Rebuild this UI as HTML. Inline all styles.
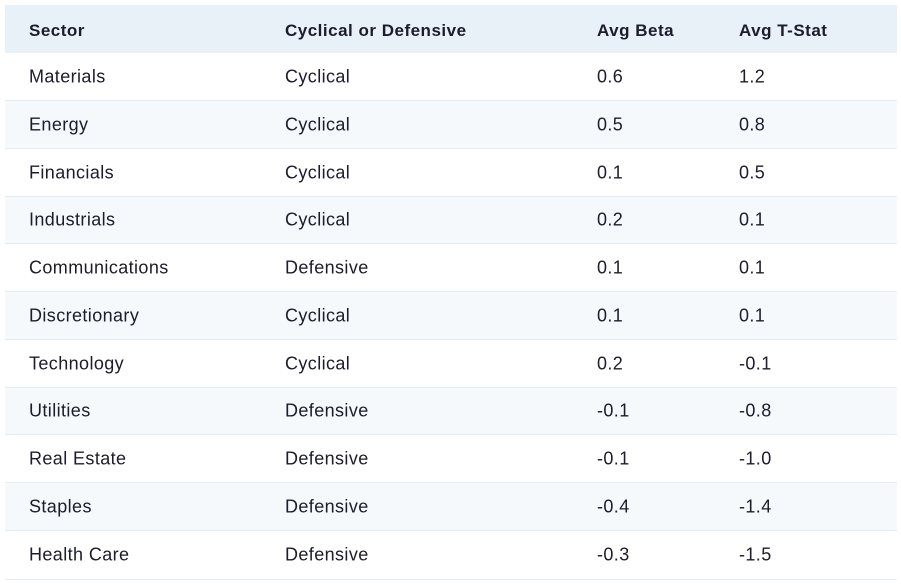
<!DOCTYPE html>
<html><head><style>
body{margin:0;width:901px;height:584px;background:#fff;font-family:"Liberation Sans",Arial,sans-serif;color:#1c1c2b;position:relative;overflow:hidden}
.r{position:absolute;left:5px;width:892px;border-bottom:1px solid #e4ecf4;box-sizing:border-box}
.r span{position:absolute;font-size:18px;top:50%;transform:translateY(-50%);white-space:nowrap;letter-spacing:0.4px}
.h{background:#e8f0f8;border-bottom:none}
.h span{font-weight:bold;font-size:17px;letter-spacing:0.5px;top:calc(50% + 2px)}
.a{background:#f5f9fc}
.c1{left:24px}.c2{left:280px}.c3{left:592px}.c4{left:734px}
</style></head><body>
<div class="r h" style="top:5px;height:48px"><span class="c1">Sector</span><span class="c2">Cyclical or Defensive</span><span class="c3">Avg Beta</span><span class="c4">Avg T-Stat</span></div>
<div class="r" style="top:53px;height:48px"><span class="c1">Materials</span><span class="c2">Cyclical</span><span class="c3">0.6</span><span class="c4">1.2</span></div>
<div class="r a" style="top:101px;height:48px"><span class="c1">Energy</span><span class="c2">Cyclical</span><span class="c3">0.5</span><span class="c4">0.8</span></div>
<div class="r" style="top:149px;height:48px"><span class="c1">Financials</span><span class="c2">Cyclical</span><span class="c3">0.1</span><span class="c4">0.5</span></div>
<div class="r a" style="top:197px;height:47px"><span class="c1">Industrials</span><span class="c2">Cyclical</span><span class="c3">0.2</span><span class="c4">0.1</span></div>
<div class="r" style="top:244px;height:48px"><span class="c1">Communications</span><span class="c2">Defensive</span><span class="c3">0.1</span><span class="c4">0.1</span></div>
<div class="r a" style="top:292px;height:48px"><span class="c1">Discretionary</span><span class="c2">Cyclical</span><span class="c3">0.1</span><span class="c4">0.1</span></div>
<div class="r" style="top:340px;height:48px"><span class="c1">Technology</span><span class="c2">Cyclical</span><span class="c3">0.2</span><span class="c4">-0.1</span></div>
<div class="r a" style="top:388px;height:47px"><span class="c1">Utilities</span><span class="c2">Defensive</span><span class="c3">-0.1</span><span class="c4">-0.8</span></div>
<div class="r" style="top:435px;height:48px"><span class="c1">Real Estate</span><span class="c2">Defensive</span><span class="c3">-0.1</span><span class="c4">-1.0</span></div>
<div class="r a" style="top:483px;height:48px"><span class="c1">Staples</span><span class="c2">Defensive</span><span class="c3">-0.4</span><span class="c4">-1.4</span></div>
<div class="r" style="top:531px;height:49px"><span class="c1">Health Care</span><span class="c2">Defensive</span><span class="c3">-0.3</span><span class="c4">-1.5</span></div>
</body></html>
